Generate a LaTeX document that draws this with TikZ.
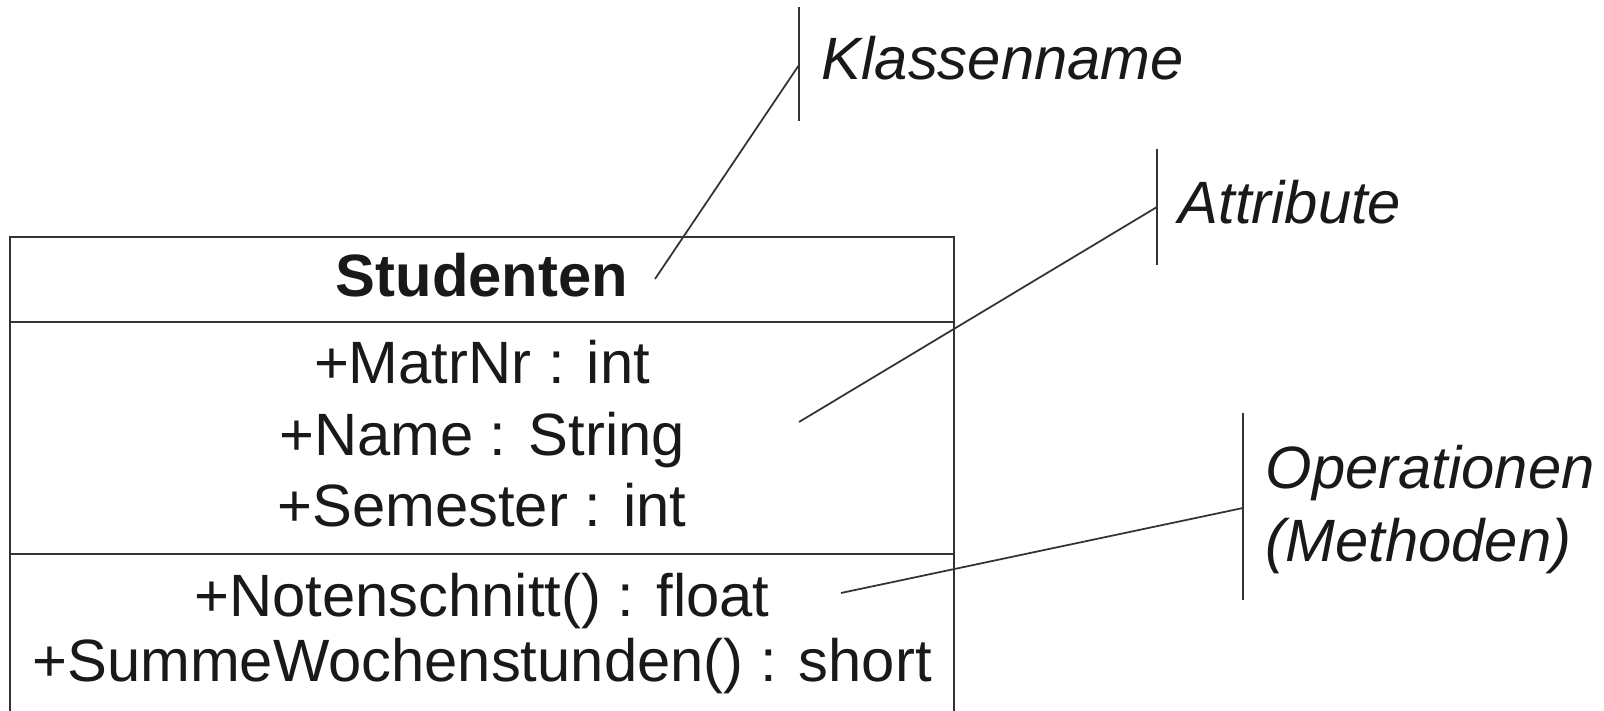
\documentclass[tikz,border=0pt]{standalone}
\usepackage{fontspec}
\setmainfont{Liberation Sans}
\usepackage{tikz}
\tikzstyle{fach} = [rectangle, draw=black!80, line width=0.6pt, minimum width=9.44cm, inner sep=0pt, anchor=north]
\tikzstyle{eintrag} = [font=\fontsize{17}{20}\selectfont, anchor=base, inner sep=0pt, text=black!90]
\tikzstyle{notiz} = [font=\fontsize{17}{21}\selectfont\itshape, anchor=base west, inner sep=0pt, text=black!90]
\tikzstyle{strich} = [draw=black!80, line width=0.5pt]

\begin{document}
\begin{tikzpicture}
    \useasboundingbox (0,0) rectangle (16.04,-7.11);

    % Klasse mit drei Abschnitten
    \node [fach, minimum height=0.85cm] (kopf) at (4.82,-2.36) {};
    \node [fach, minimum height=2.32cm] (attr) at (4.82,-3.21) {};
    \node [fach, minimum height=2.0cm] (ops) at (4.82,-5.53) {};

    \node [eintrag, font=\fontsize{17}{20}\selectfont\bfseries] (name) at (4.82,-2.97) {Studenten};
    \foreach \y/\t [count=\i] in {-3.84/+MatrNr : int, -4.56/+Name : String, -5.27/+Semester : int}
    {
        \node [eintrag] (attr\i) at (4.82,\y) {\t};
    }
    \node [eintrag] (op1) at (4.82,-6.17) {+Notenschnitt() : float};
    \node [eintrag] (op2) at (4.82,-6.82) {+SummeWochenstunden() : short};

    % Beschriftungen
    \node [notiz] (klasse) at (8.21,-0.80) {Klassenname};
    \node [notiz] (attribute) at (11.78,-2.24) {Attribute};
    \node [notiz, align=left] (operationen) at (12.65,-5.62) {Operationen\\(Methoden)};

    \coordinate (kOben) at (7.99,-0.07);
    \coordinate (kUnten) at (7.99,-1.21);
    \coordinate (kPunkt) at (7.99,-0.65);
    \coordinate (kEnde) at (6.55,-2.79);

    \coordinate (aOben) at (11.57,-1.49);
    \coordinate (aUnten) at (11.57,-2.65);
    \coordinate (aPunkt) at (11.57,-2.07);
    \coordinate (aEnde) at (7.99,-4.22);

    \coordinate (oOben) at (12.43,-4.13);
    \coordinate (oUnten) at (12.43,-6.00);
    \coordinate (oPunkt) at (12.43,-5.08);
    \coordinate (oEnde) at (8.41,-5.93);

    \draw [strich] (kOben) -- (kUnten);
    \draw [strich] (kPunkt) -- (kEnde);
    \draw [strich] (aOben) -- (aUnten);
    \draw [strich] (aPunkt) -- (aEnde);
    \draw [strich] (oOben) -- (oUnten);
    \draw [strich] (oPunkt) -- (oEnde);
\end{tikzpicture}
\end{document}
